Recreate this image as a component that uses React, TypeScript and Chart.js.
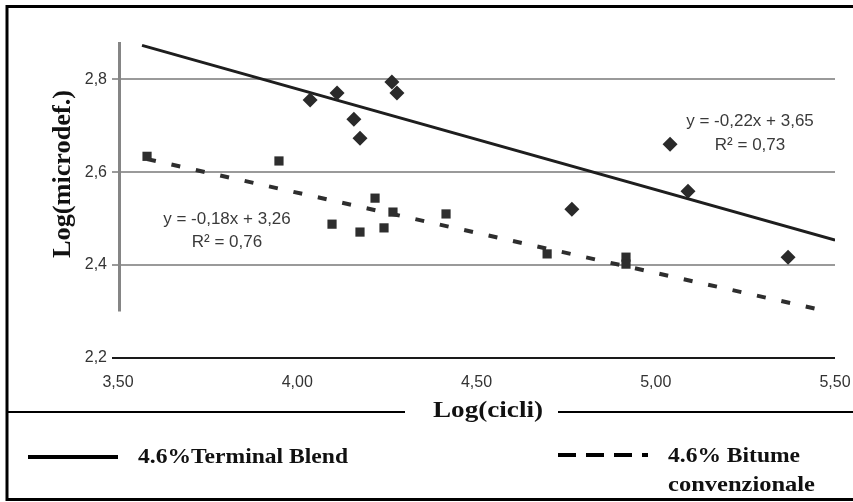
import React, { useEffect, useRef } from "react";
import { Chart, registerables } from "chart.js";

Chart.register(...registerables);

// ---- data ----
const terminalX = [4.036, 4.111, 4.158, 4.175, 4.264, 4.278, 4.766, 5.04, 5.09, 5.369];
const terminalY = [2.755, 2.77, 2.714, 2.673, 2.794, 2.77, 2.52, 2.66, 2.559, 2.417];
const bitumeX = [3.581, 3.949, 4.097, 4.175, 4.217, 4.242, 4.267, 4.415, 4.697, 4.917, 4.917];
const bitumeY = [2.634, 2.624, 2.488, 2.471, 2.544, 2.48, 2.514, 2.51, 2.424, 2.417, 2.402];

const terminalTrend = { slope: -0.2168, intercept: 3.646, from: 3.567, to: 5.5 };
const bitumeTrend = { slope: -0.1727, intercept: 3.2465, from: 3.581, to: 5.475 };

const xTicks = [3.5, 4.0, 4.5, 5.0, 5.5];
const yTicks = [2.2, 2.4, 2.6, 2.8];
const xRange = [3.5, 5.5];
const yRange = [2.2, 2.88];
const yAxisLineEnd = 2.3;

const xTitle = "Log(cicli)";
const yTitle = "Log(microdef.)";
const terminalLabel = "4.6%Terminal Blend";
const bitumeLabel = ["4.6% Bitume", "convenzionale"];
const terminalEq = ["y = -0,22x + 3,65", "R\u00B2 = 0,73"];
const bitumeEq = ["y = -0,18x + 3,26", "R\u00B2 = 0,76"];
// label anchors in data units (x centre, y of each line)
const terminalEqPos = { x: 5.263, y: [2.71, 2.658] };
const bitumeEqPos = { x: 3.804, y: [2.499, 2.449] };

const SERIF = '"Liberation Serif", "Times New Roman", serif';
const SANS = '"Liberation Sans", Arial, sans-serif';

function trendPoints(t: { slope: number; intercept: number; from: number; to: number }) {
  return [t.from, t.to].map((x) => ({ x, y: t.slope * x + t.intercept }));
}

function fitText(
  ctx: CanvasRenderingContext2D,
  text: string,
  x: number,
  y: number,
  font: string,
  width: number,
  align: "left" | "center"
) {
  ctx.save();
  ctx.font = font;
  const w = ctx.measureText(text).width;
  const s = width / w;
  ctx.translate(align === "center" ? x - width / 2 : x, y);
  ctx.scale(s, 1);
  ctx.textAlign = "left";
  ctx.textBaseline = "alphabetic";
  ctx.fillText(text, 0, 0);
  ctx.restore();
}

const decor = {
  id: "decor",
  beforeDatasetsDraw(chart: any) {
    const { ctx, chartArea, scales } = chart;
    ctx.save();
    ctx.strokeStyle = "#858585";
    ctx.lineWidth = 3;
    ctx.beginPath();
    ctx.moveTo(chartArea.left + 1.5, chartArea.top);
    ctx.lineTo(chartArea.left + 1.5, scales.y.getPixelForValue(yAxisLineEnd));
    ctx.stroke();
    ctx.restore();
  },
  afterDraw(chart: any) {
    const { ctx, scales } = chart;
    ctx.save();
    // outer frame (top, left, bottom)
    ctx.strokeStyle = "#000";
    ctx.lineWidth = 3;
    ctx.beginPath();
    ctx.moveTo(853, 6.5);
    ctx.lineTo(7, 6.5);
    ctx.lineTo(7, 499.5);
    ctx.lineTo(853, 499.5);
    ctx.stroke();
    // divider
    ctx.lineWidth = 2;
    ctx.beginPath();
    ctx.moveTo(8, 412);
    ctx.lineTo(405, 412);
    ctx.moveTo(558, 412);
    ctx.lineTo(853, 412);
    ctx.stroke();

    ctx.fillStyle = "#111";
    // x title
    fitText(ctx, xTitle, 433, 417, `bold 24px ${SERIF}`, 110, "left");
    // y title (rotated)
    ctx.save();
    ctx.translate(70, 174);
    ctx.rotate(-Math.PI / 2);
    fitText(ctx, yTitle, 0, 0, `bold 25px ${SERIF}`, 168, "center");
    ctx.restore();

    // legend
    ctx.strokeStyle = "#000";
    ctx.lineWidth = 4;
    ctx.beginPath();
    ctx.moveTo(28, 457);
    ctx.lineTo(118, 457);
    ctx.stroke();
    ctx.setLineDash([18, 10]);
    ctx.beginPath();
    ctx.moveTo(558, 455);
    ctx.lineTo(648, 455);
    ctx.stroke();
    ctx.setLineDash([]);
    fitText(ctx, terminalLabel, 138, 463, `bold 21px ${SERIF}`, 210, "left");
    fitText(ctx, bitumeLabel[0], 668, 462, `bold 21px ${SERIF}`, 132, "left");
    fitText(ctx, bitumeLabel[1], 668, 491, `bold 21px ${SERIF}`, 147, "left");

    // trend equations
    ctx.fillStyle = "#3a3a3a";
    ctx.font = `17px ${SANS}`;
    ctx.textAlign = "center";
    ctx.textBaseline = "middle";
    const px = scales.x.getPixelForValue(terminalEqPos.x);
    terminalEq.forEach((t, i) => ctx.fillText(t, px, scales.y.getPixelForValue(terminalEqPos.y[i])));
    const bx = scales.x.getPixelForValue(bitumeEqPos.x);
    bitumeEq.forEach((t, i) => ctx.fillText(t, bx, scales.y.getPixelForValue(bitumeEqPos.y[i])));
    ctx.restore();
  },
};

export default function App() {
  const ref = useRef<HTMLCanvasElement>(null);
  useEffect(() => {
    const chart = new Chart(ref.current as HTMLCanvasElement, {
      type: "scatter",
      data: {
        datasets: [
          {
            label: "4.6%Terminal Blend",
            data: terminalX.map((x, i) => ({ x, y: terminalY[i] })),
            pointStyle: "rectRot",
            pointRadius: 7.5,
            backgroundColor: "#2a2a2a",
            borderColor: "#2a2a2a",
            borderWidth: 0,
            order: 0,
          },
          {
            label: "4.6% Bitume convenzionale",
            data: bitumeX.map((x, i) => ({ x, y: bitumeY[i] })),
            pointStyle: "rect",
            pointRadius: 6.5,
            backgroundColor: "#2e2e2e",
            borderColor: "#2e2e2e",
            borderWidth: 0,
            order: 0,
          },
          {
            label: "trend TB",
            data: trendPoints(terminalTrend),
            showLine: true,
            pointRadius: 0,
            borderColor: "#1e1e1e",
            borderWidth: 3,
            order: 1,
          },
          {
            label: "trend BC",
            data: trendPoints(bitumeTrend),
            showLine: true,
            pointRadius: 0,
            borderColor: "#2e2e2e",
            borderWidth: 4,
            borderDash: [9, 16],
            order: 1,
          },
        ],
      } as any,
      options: {
        responsive: false,
        animation: false,
        devicePixelRatio: 1,
        layout: { padding: { top: 42, left: 0, right: 18, bottom: 104 } },
        plugins: { legend: { display: false }, tooltip: { enabled: false } },
        scales: {
          x: {
            type: "linear",
            min: xRange[0],
            max: xRange[1],
            afterBuildTicks: (s: any) => {
              s.ticks = xTicks.map((value) => ({ value }));
            },
            afterFit: (s: any) => {
              s.height = 40;
              s.paddingLeft = 0;
              s.paddingRight = 0;
            },
            grid: { display: false, drawTicks: false },
            border: { display: false },
            ticks: {
              padding: 15,
              color: "#333",
              font: { family: SANS, size: 16 },
              maxRotation: 0,
              autoSkip: false,
              callback: (v: any) => Number(v).toFixed(2).replace(".", ","),
            },
          },
          y: {
            type: "linear",
            min: yRange[0],
            max: yRange[1],
            afterBuildTicks: (s: any) => {
              s.ticks = yTicks.map((value) => ({ value }));
            },
            afterFit: (s: any) => {
              s.width = 118;
              s.paddingTop = 0;
              s.paddingBottom = 0;
            },
            grid: {
              color: (c: any) => (Math.abs(c.tick.value - yRange[0]) < 1e-6 ? "#1a1a1a" : "#9a9a9a"),
              lineWidth: 2,
              drawTicks: true,
              tickLength: 6,
            },
            border: { display: false },
            ticks: {
              padding: 5,
              color: "#333",
              font: { family: SANS, size: 16 },
              callback: (v: any) => Number(v).toFixed(1).replace(".", ","),
            },
          },
        },
      } as any,
      plugins: [decor],
    });
    return () => chart.destroy();
  }, []);
  return (
    <div style={{ position: "absolute", left: 0, top: 0, width: 853, height: 502, background: "#fff" }}>
      <canvas ref={ref} width={853} height={502} style={{ display: "block" }} />
    </div>
  );
}
